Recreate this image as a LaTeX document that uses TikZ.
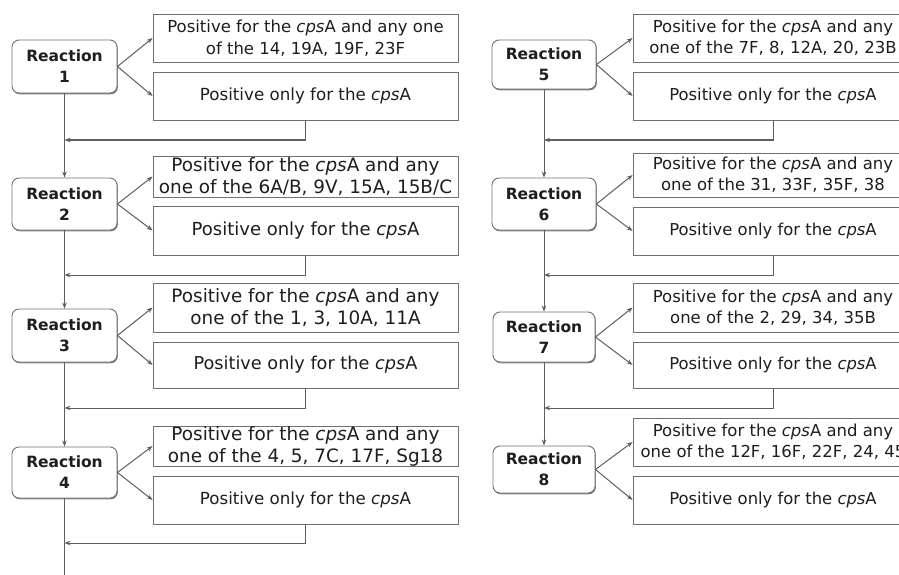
\documentclass[tikz,border=0pt]{standalone}
\usepackage{fontspec}
\setmainfont{DejaVu Sans}
\usetikzlibrary{arrows.meta,shadows}
\definecolor{linecol}{HTML}{5E5E5E}
\definecolor{boxcol}{HTML}{707070}
\definecolor{txtcol}{HTML}{1E1E1E}
\newcommand\pf[2]{\fontsize{#1}{#2}\selectfont}
\begin{document}
\begin{tikzpicture}[x=1pt,y=-1pt,
  shad/.style={drop shadow={shadow xshift=0.8pt,shadow yshift=-1.3pt,fill=black!50,opacity=1}},
  rbox/.style={draw=boxcol,line width=0.9pt,rounded corners=7pt,minimum width=105pt,inner sep=0pt,
    align=center,text=txtcol,fill=white,font=\pf{15.5}{21}\bfseries,shad},
  pbox/.style={draw=boxcol,line width=0.8pt,inner sep=0pt,align=center,text=txtcol,fill=white,shad},
  lbox/.style={pbox,minimum width=305pt},
  qbox/.style={pbox,minimum width=280pt},
  arr/.style={draw=linecol,line width=1pt,-{Stealth[length=6pt,width=4.5pt]}},
  ln/.style={draw=linecol,line width=1pt},
]
\useasboundingbox (0,0) rectangle (899,575);
\clip (0,0) rectangle (899,575);

% ---------- left column ----------
\node[rbox,minimum height=53pt] (R1) at (64.5,66.5) {Reaction\\1};
\node[lbox,minimum height=48pt,font=\pf{16.5}{22}] (P1a) at (305.5,38) {Positive for the \textit{cps}A and any one\\of the 14, 19A, 19F, 23F};
\node[lbox,minimum height=48pt,font=\pf{16.7}{20}] (P1b) at (305.5,96) {Positive only for the \textit{cps}A};

\node[rbox,minimum height=52pt] (R2) at (64.5,204) {Reaction\\2};
\node[lbox,minimum height=41pt,font=\pf{18.4}{22}] (P2a) at (305.5,176.5) {Positive for the \textit{cps}A and any\\one of the 6A/B, 9V, 15A, 15B/C};
\node[lbox,minimum height=49pt,font=\pf{18}{20}] (P2b) at (305.5,230.5) {Positive only for the \textit{cps}A};

\node[rbox,minimum height=53pt] (R3) at (64.5,335.5) {Reaction\\3};
\node[lbox,minimum height=49pt,font=\pf{18.4}{22}] (P3a) at (305.5,307.5) {Positive for the \textit{cps}A and any\\one of the 1, 3, 10A, 11A};
\node[lbox,minimum height=46pt,font=\pf{17.7}{20}] (P3b) at (305.5,365) {Positive only for the \textit{cps}A};

\node[rbox,minimum height=51pt] (R4) at (64.5,472.5) {Reaction\\4};
\node[lbox,minimum height=40pt,font=\pf{18.4}{22}] (P4a) at (305.5,446) {Positive for the \textit{cps}A and any\\one of the 4, 5, 7C, 17F, Sg18};
\node[lbox,minimum height=48pt,font=\pf{16.7}{20}] (P4b) at (305.5,500) {Positive only for the \textit{cps}A};

\coordinate (j1) at (64.5,140);
\coordinate (j2) at (64.5,275);
\coordinate (j3) at (64.5,408);
\coordinate (j4) at (64.5,543);
\coordinate (end) at (64.5,575);

\foreach \r in {1,2,3,4}{
  \draw[arr] (R\r.east) -- (P\r a.west);
  \draw[arr] (R\r.east) -- (P\r b.west);
  \draw[arr] (P\r b.south) |- (j\r);
}
\draw[arr] (R1.south) -- (R2.north);
\draw[arr] (R2.south) -- (R3.north);
\draw[arr] (R3.south) -- (R4.north);
\draw[ln] (R4.south) -- (end);

% ---------- right column ----------
\node[rbox,minimum height=49pt,minimum width=104pt] (R5) at (544,64.5) {Reaction\\5};
\node[qbox,minimum height=48pt,font=\pf{16.5}{21}] (P5a) at (773,38) {Positive for the \textit{cps}A and any\\one of the 7F, 8, 12A, 20, 23B};
\node[qbox,minimum height=48pt,font=\pf{16.4}{20}] (P5b) at (773,96) {Positive only for the \textit{cps}A};

\node[rbox,minimum height=52pt,minimum width=104pt] (R6) at (544,204) {Reaction\\6};
\node[qbox,minimum height=44pt,font=\pf{16.5}{21}] (P6a) at (773,175) {Positive for the \textit{cps}A and any\\one of the 31, 33F, 35F, 38};
\node[qbox,minimum height=48pt,font=\pf{16.4}{20}] (P6b) at (773,231) {Positive only for the \textit{cps}A};

\node[rbox,minimum height=50pt,minimum width=102pt] (R7) at (544,337) {Reaction\\7};
\node[qbox,minimum height=49pt,font=\pf{16.5}{21}] (P7a) at (773,307.5) {Positive for the \textit{cps}A and any\\one of the 2, 29, 34, 35B};
\node[qbox,minimum height=46pt,font=\pf{16.4}{20}] (P7b) at (773,365) {Positive only for the \textit{cps}A};

\node[rbox,minimum height=47pt,minimum width=102pt] (R8) at (544,469.5) {Reaction\\8};
\node[qbox,minimum height=48pt,font=\pf{16.5}{21}] (P8a) at (773,442) {Positive for the \textit{cps}A and any\\one of the 12F, 16F, 22F, 24, 45};
\node[qbox,minimum height=48pt,font=\pf{16.4}{20}] (P8b) at (773,500) {Positive only for the \textit{cps}A};

\coordinate (k5) at (544,140);
\coordinate (k6) at (544,275);
\coordinate (k7) at (544,408);

\foreach \r in {5,6,7,8}{
  \draw[arr] (R\r.east) -- (P\r a.west);
  \draw[arr] (R\r.east) -- (P\r b.west);
}
\foreach \r in {5,6,7}{
  \draw[arr] (P\r b.south) |- (k\r);
}
\draw[arr] (R5.south) -- (R6.north);
\draw[arr] (R6.south) -- (R7.north);
\draw[arr] (R7.south) -- (R8.north);
\end{tikzpicture}
\end{document}
